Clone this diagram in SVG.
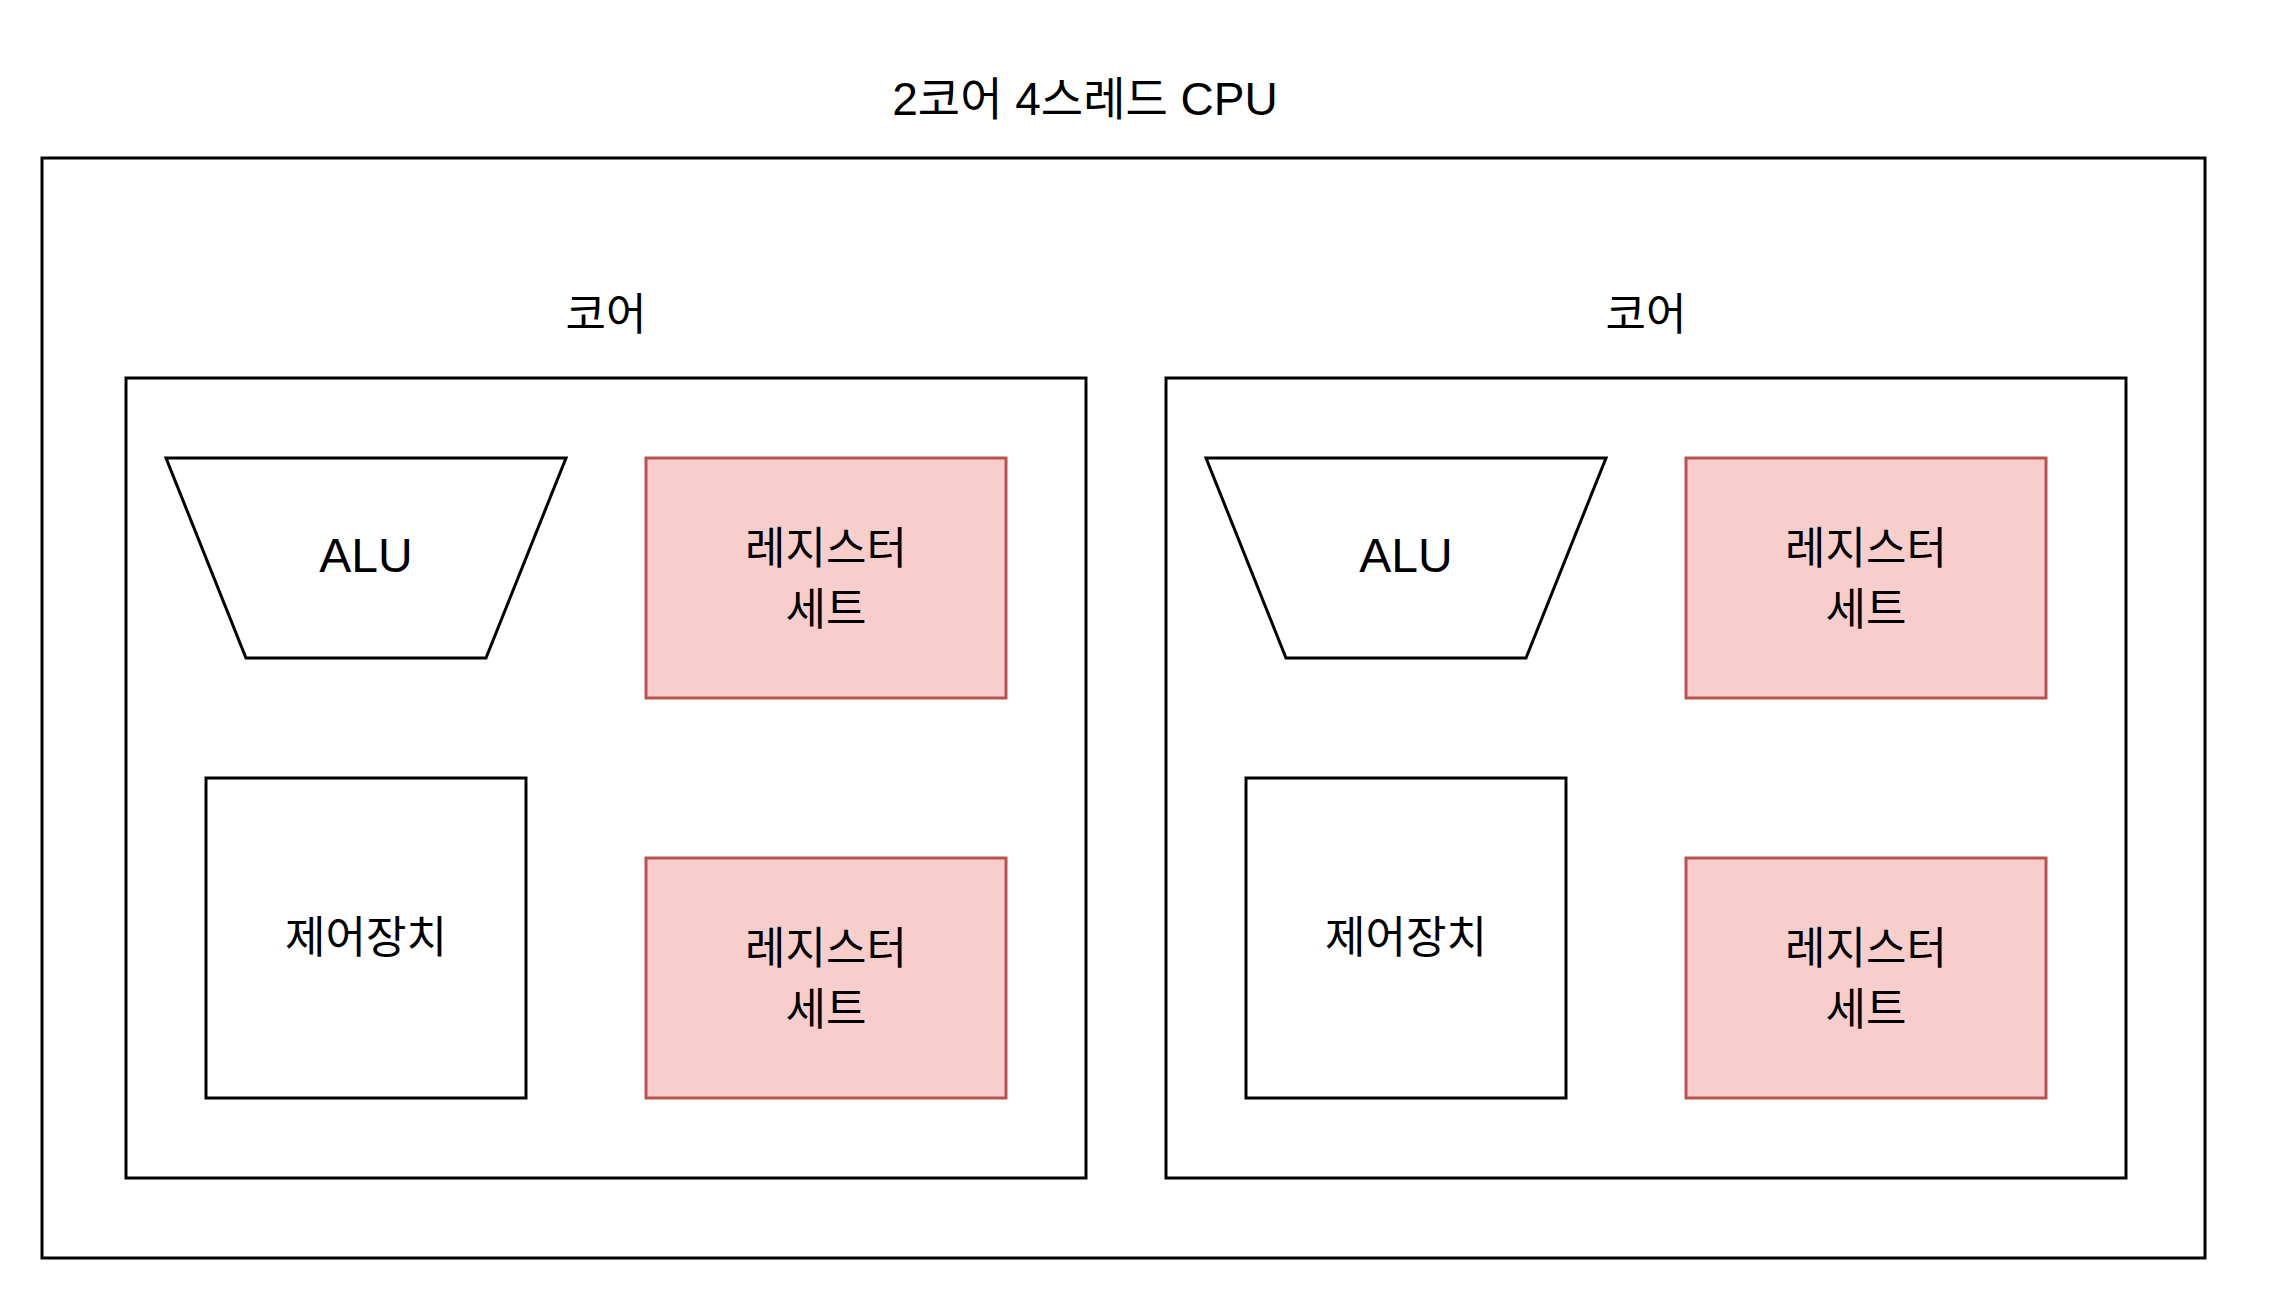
<svg xmlns="http://www.w3.org/2000/svg" width="2288" height="1300" viewBox="0 0 2288 1300">
  <style>
    text { font-family: "Liberation Sans", "Noto Sans CJK KR", sans-serif; font-size: 44px; fill: #000; text-anchor: middle; }
    .title { font-size: 46px; }
    .alu { font-size: 48px; }
    .box { fill: #fff; stroke: #000; stroke-width: 3; }
    .reg { fill: #f8cecc; stroke: #b85450; stroke-width: 3; }
  </style>
  <rect width="2288" height="1300" fill="#fff"/>
  <g id="cpu">
    <rect class="box" x="42" y="158" width="2163" height="1100"/>
    <text class="title" x="1085" y="115">2코어 4스레드 CPU</text>
  </g>
  <g id="core1">
    <rect class="box" x="126" y="378" width="960" height="800"/>
    <text x="606" y="330">코어</text>
  </g>
  <g id="alu1">
    <polygon class="box" points="166,458 566,458 486,658 246,658"/>
    <text class="alu" x="366" y="572">ALU</text>
  </g>
  <g id="reg1a">
    <rect class="reg" x="646" y="458" width="360" height="240"/>
    <text x="826" y="564">레지스터</text>
    <text x="826" y="625">세트</text>
  </g>
  <g id="ctrl1">
    <rect class="box" x="206" y="778" width="320" height="320"/>
    <text x="366" y="953">제어장치</text>
  </g>
  <g id="reg1b">
    <rect class="reg" x="646" y="858" width="360" height="240"/>
    <text x="826" y="964">레지스터</text>
    <text x="826" y="1025">세트</text>
  </g>
  <g id="core2">
    <rect class="box" x="1166" y="378" width="960" height="800"/>
    <text x="1646" y="330">코어</text>
  </g>
  <g id="alu2">
    <polygon class="box" points="1206,458 1606,458 1526,658 1286,658"/>
    <text class="alu" x="1406" y="572">ALU</text>
  </g>
  <g id="reg2a">
    <rect class="reg" x="1686" y="458" width="360" height="240"/>
    <text x="1866" y="564">레지스터</text>
    <text x="1866" y="625">세트</text>
  </g>
  <g id="ctrl2">
    <rect class="box" x="1246" y="778" width="320" height="320"/>
    <text x="1406" y="953">제어장치</text>
  </g>
  <g id="reg2b">
    <rect class="reg" x="1686" y="858" width="360" height="240"/>
    <text x="1866" y="964">레지스터</text>
    <text x="1866" y="1025">세트</text>
  </g>
  <g id="connectors"></g>
</svg>
